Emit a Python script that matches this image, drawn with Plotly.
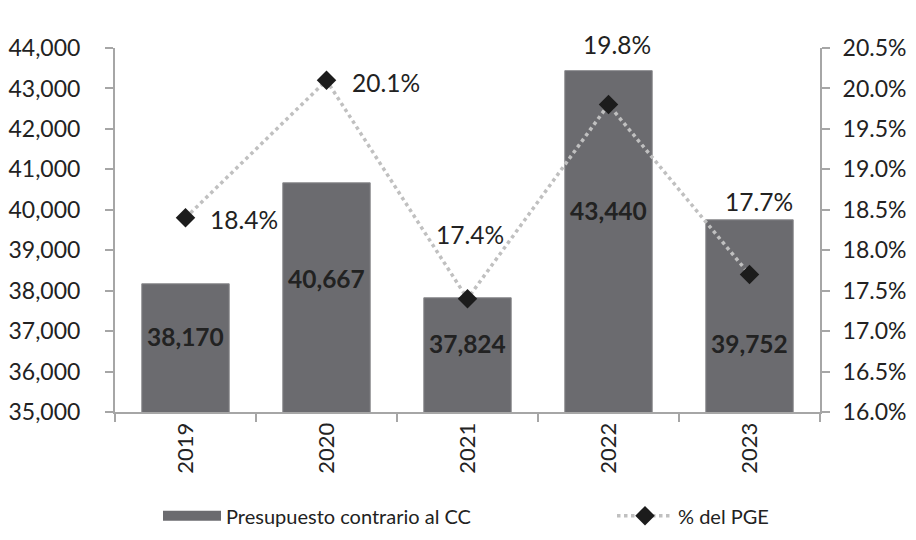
import plotly.graph_objects as go

years = ["2019", "2020", "2021", "2022", "2023"]
presupuesto = [38170, 40667, 37824, 43440, 39752]
pct_pge = [18.4, 20.1, 17.4, 19.8, 17.7]

# label placement (layout only): (xshift px, yshift px, xanchor)
bar_label_y = [36855, 38289, 36706, 39970, 36706]
pct_label_offsets = [(22, -2, "left"), (23, -2, "left"), (2, 64, "center"), (8, 60, "center"), (9, 73, "center")]

FONT = "Lato"
TXT = "#222222"
AX = "#a6a6a6"
BAR = "#6b6b6f"

fig = go.Figure()
fig.add_trace(go.Bar(
    x=years, y=presupuesto, name="Presupuesto contrario al CC",
    marker=dict(color=BAR, line=dict(color="#8a8a8d", width=1)),
    yaxis="y", showlegend=False,
))
# legend proxy for the bar series (wide swatch like the reference)
fig.add_trace(go.Scatter(
    x=[None], y=[None], name="Presupuesto contrario al CC", mode="lines",
    line=dict(color=BAR, width=14), showlegend=True, legend="legend",
))
fig.add_trace(go.Scatter(
    x=years, y=pct_pge, name="% del PGE", yaxis="y2", mode="lines+markers",
    line=dict(color="#c0c0c0", width=3.5, dash="dot"),
    marker=dict(symbol="diamond", size=15, color="#1c1c1c"),
    legend="legend2",
))

annotations = []
for i, (v, ly) in enumerate(zip(presupuesto, bar_label_y)):
    annotations.append(dict(x=i, y=ly, xref="x", yref="y", text=f"{v:,}",
                            showarrow=False, font=dict(family=FONT, size=24.5, color=TXT, weight="bold")))
for i, (p, (dx, dy, anc)) in enumerate(zip(pct_pge, pct_label_offsets)):
    annotations.append(dict(x=i, y=p, xref="x", yref="y2", text=f"{p:.1f}%",
                            showarrow=False, xanchor=anc, xshift=dx, yshift=dy,
                            font=dict(family=FONT, size=24.5, color=TXT)))

legend_common = dict(orientation="h", xref="container", yref="container",
                     xanchor="left", y=0.045, yanchor="middle",
                     font=dict(family=FONT, size=20, color=TXT), bgcolor="rgba(0,0,0,0)")

fig.update_layout(
    width=916, height=540,
    margin=dict(l=115, r=96, t=48, b=128, autoexpand=False),
    paper_bgcolor="white", plot_bgcolor="white",
    font=dict(family=FONT, size=22, color=TXT),
    bargap=0.38,
    showlegend=True,
    legend=dict(x=158 / 916, itemwidth=58, **legend_common),
    legend2=dict(x=612 / 916, itemwidth=56, **legend_common),
    xaxis=dict(type="category", range=[-0.5, 4.5], showline=True, linecolor=AX, linewidth=2,
               ticks="outside", tickson="boundaries", ticklen=8, tickcolor=AX, tickwidth=2,
               tickangle=-90, tickfont=dict(family=FONT, size=22, color=TXT),
               showgrid=False, automargin=False),
    yaxis=dict(range=[35000, 44000], dtick=1000, tickformat=",d", showline=True,
               linecolor=AX, linewidth=2, ticks="outside", ticklen=8, tickcolor=AX, tickwidth=2,
               showgrid=False, zeroline=False, automargin=False, ticklabelstandoff=20,
               tickfont=dict(family=FONT, size=23, color=TXT)),
    yaxis2=dict(range=[16, 20.5], dtick=0.5, tickformat=".1f", ticksuffix="%", overlaying="y",
                side="right", showline=True, linecolor=AX, linewidth=2, ticks="outside",
                ticklen=8, tickcolor=AX, tickwidth=2, showgrid=False, zeroline=False,
                automargin=False, ticklabelstandoff=8,
                tickfont=dict(family=FONT, size=23, color=TXT)),
    annotations=annotations,
)

fig.write_html("out.html", config={"displayModeBar": False},
               post_script="document.body.style.margin='0';document.body.style.overflow='hidden';")
